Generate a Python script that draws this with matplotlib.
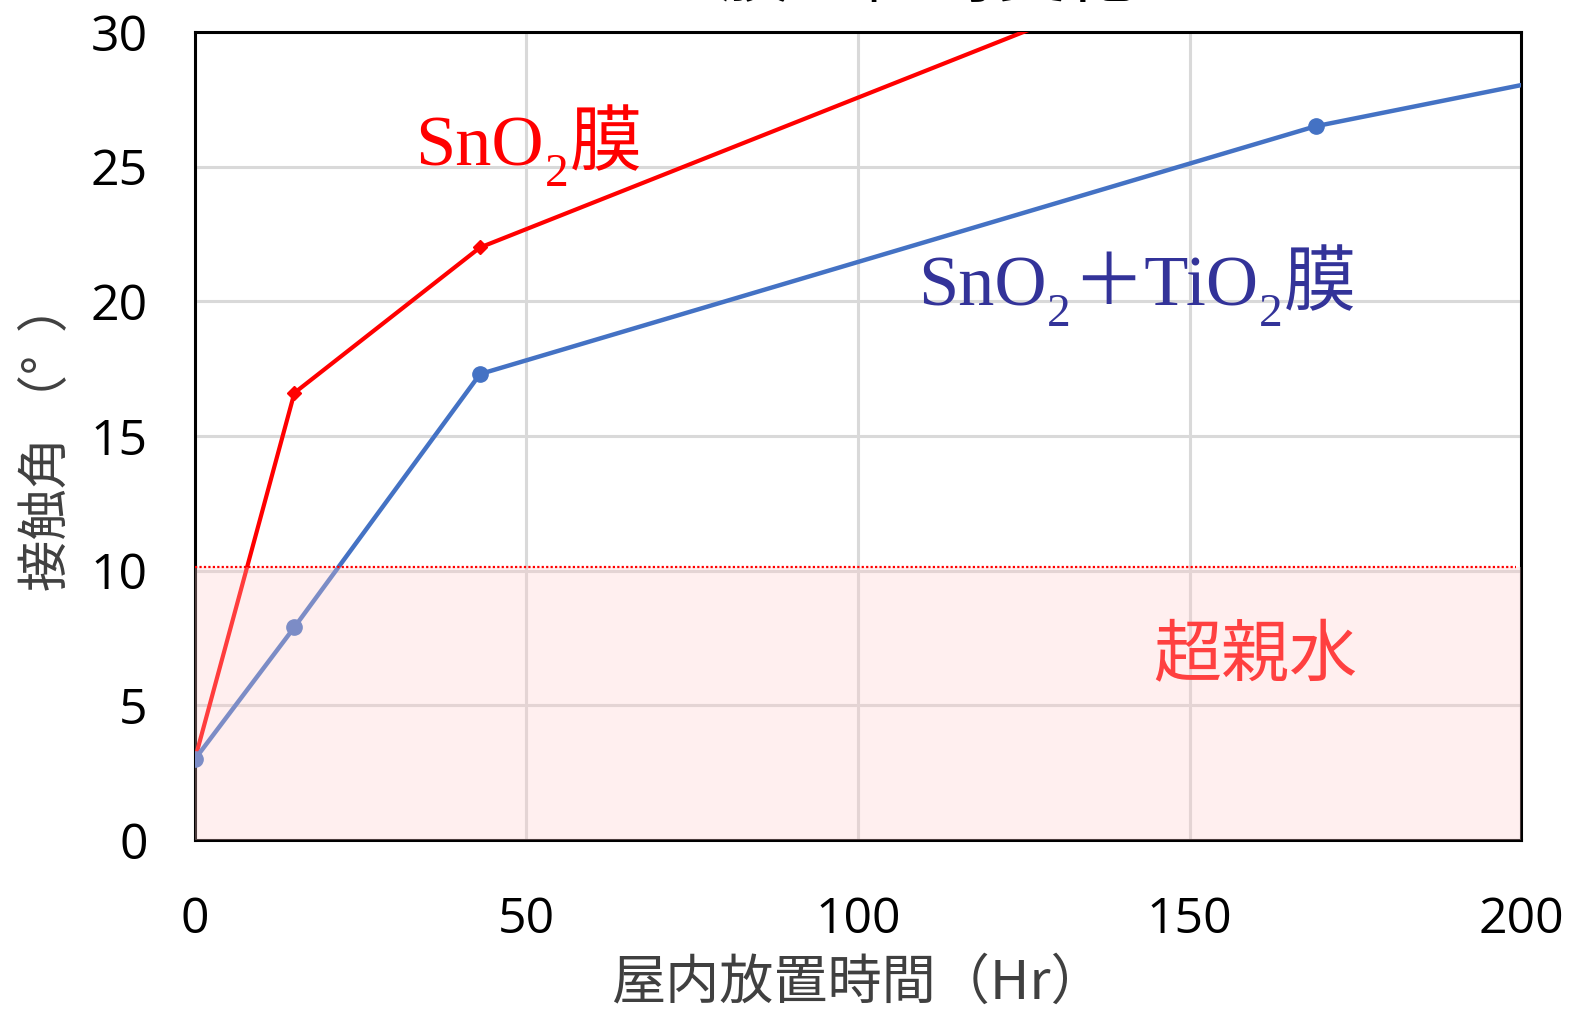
import matplotlib.pyplot as plt
from matplotlib.patches import Rectangle

# 屋内放置時間 (Hr) と接触角 (°)
hours_sno2 = [0, 15, 43, 169]
angle_sno2 = [3.0, 16.6, 22.0, 34.3]
hours_tio2 = [0, 15, 43, 169, 240]
angle_tio2 = [3.0, 7.9, 17.3, 26.5, 30.0]

x_ticks = [0, 50, 100, 150, 200]
y_ticks = [0, 5, 10, 15, 20, 25, 30]
super_hydrophilic_limit = 10.15

RED = '#FF0000'
BLUE = '#4472C4'
NAVY = '#333399'
SERIF = ['Liberation Serif', 'Noto Sans CJK JP']
SANS = ['Open Sans', 'Noto Sans CJK JP']
CJK = ['Noto Sans CJK JP', 'DejaVu Sans']

plt.rcParams['font.family'] = SANS


def formula_label(ax, x, y, parts, color, size, sub_size):
    """化学式ラベル: parts は (文字列, 下付きか) のリスト"""
    first_text, _ = parts[0]
    base = ax.text(x, y, first_text, color=color, fontsize=size,
                   family=SERIF, ha='left', va='baseline')
    prev = base
    for text, is_sub in parts[1:]:
        if is_sub:
            prev = ax.annotate(text, xy=(1, 0), xycoords=(prev, base),
                               xytext=(0.5, -11), textcoords='offset points',
                               ha='left', va='bottom', color=color,
                               fontsize=sub_size, family=SERIF)
        else:
            prev = ax.annotate(text, xy=(1, 0), xycoords=(prev, base),
                               xytext=(1, 0), textcoords='offset points',
                               ha='left', va='bottom', color=color,
                               fontsize=size, family=SERIF)
    return base


fig = plt.figure(figsize=(15.72, 10.26), dpi=100)
ax = fig.add_axes([0.124, 0.1813, 0.8436, 0.7875])

ax.set_xlim(0, 200)
ax.set_ylim(0, 30)
ax.set_xticks(x_ticks)
ax.set_yticks(y_ticks)
ax.grid(True, color='#D9D9D9', linewidth=2.2)
ax.set_axisbelow(True)
ax.tick_params(length=0, labelsize=36)
ax.tick_params(axis='x', pad=40)
ax.tick_params(axis='y', pad=34)
for side in ax.spines.values():
    side.set_linewidth(2.2)
    side.set_color('black')

ax.plot(hours_sno2, angle_sno2, color=RED, linewidth=3, marker='D',
        markersize=7, zorder=3)
ax.plot(hours_tio2, angle_tio2, color=BLUE, linewidth=3.2, marker='o',
        markersize=11, zorder=4)

# 超親水領域（線の上に半透明で重ねる）
ax.add_patch(Rectangle((0, 0), 200, super_hydrophilic_limit,
                       facecolor='#FFCBCB', alpha=0.3, edgecolor='none',
                       zorder=5))
ax.plot([0, 199.2], [super_hydrophilic_limit] * 2, color=RED,
        linestyle=(0, (1, 1)), linewidth=1.6, zorder=6)

ax.text(144.5, 6.8, '超親水', color='#FF4040', fontsize=49, family=CJK,
        ha='left', va='center', zorder=7)

formula_label(ax, 33.2, 25.05,
              [('SnO', False), ('2', True), ('膜', False)],
              RED, 52, 34)
formula_label(ax, 109.0, 19.85,
              [('SnO', False), ('2', True), ('＋TiO', False), ('2', True),
               ('膜', False)],
              NAVY, 52, 34)

ax.set_xlabel('屋内放置時間（Hr）', family=CJK, fontsize=39, color='#404040',
              labelpad=8)
ax.set_ylabel('接触角 （°  ）', family=CJK, fontsize=37, color='#404040',
              labelpad=12)
ax.yaxis.label.set_y(0.5)

# 上端で切れているタイトル
fig.text(720 / 1572, 1.004, '膜の経時変化', family=CJK, fontsize=50,
         ha='left', va='baseline')

fig.savefig('out.png', dpi=100)
